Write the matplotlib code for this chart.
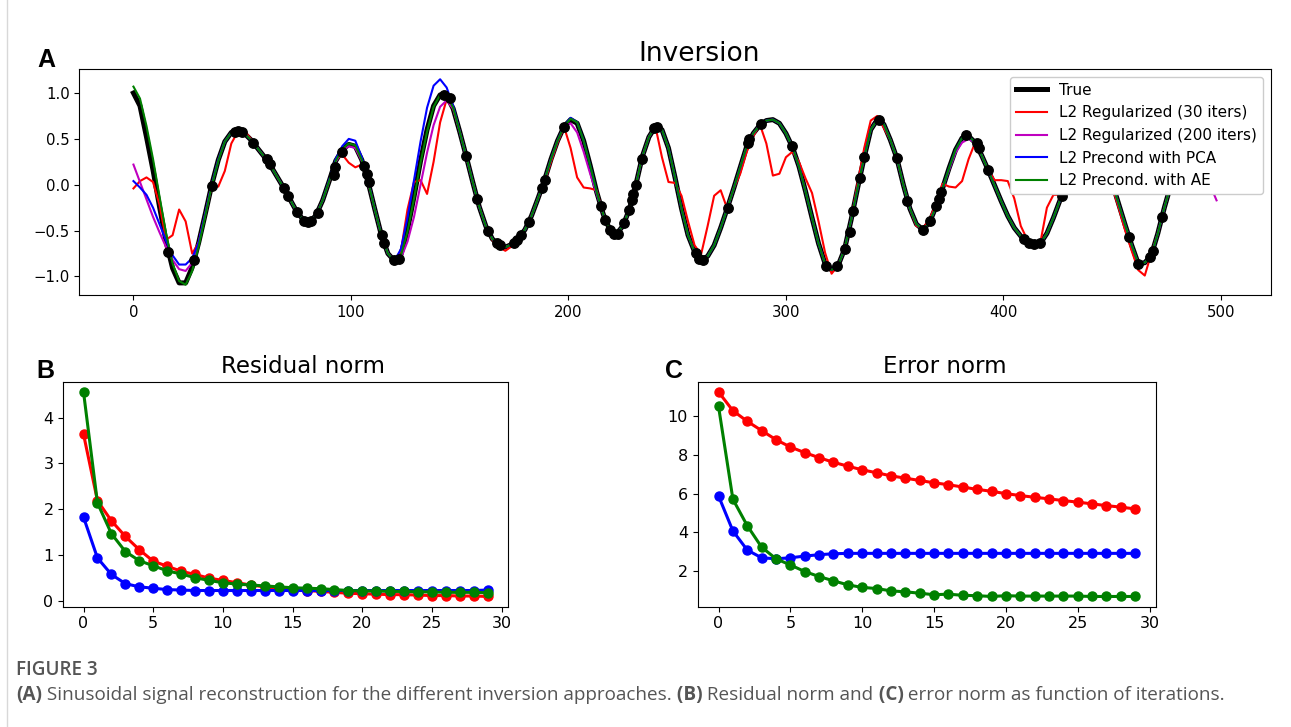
import numpy as np
import matplotlib
matplotlib.use("Agg")
import matplotlib.pyplot as plt
from matplotlib.lines import Line2D

# ---- panel A: signal samples (every 3rd sample) ----
t = np.arange(0, 499, 3)

true_sig = [
    1.00, 0.86, 0.52, 0.16, -0.24, -0.62, -0.91, -1.07, -1.07, -0.90,
    -0.63, -0.32, 0.00, 0.27, 0.47, 0.57, 0.585, 0.56, 0.49, 0.40,
    0.31, 0.21, 0.09, -0.03, -0.16, -0.29, -0.38, -0.41, -0.33, -0.17,
    0.04, 0.26, 0.38, 0.44, 0.42, 0.27, 0.02, -0.27, -0.55, -0.75,
    -0.83, -0.76, -0.49, -0.13, 0.26, 0.60, 0.86, 0.98, 0.97, 0.83,
    0.58, 0.31, 0.03, -0.24, -0.45, -0.59, -0.66, -0.68, -0.65, -0.58,
    -0.49, -0.34, -0.15, 0.05, 0.28, 0.48, 0.635, 0.71, 0.67, 0.48,
    0.21, -0.08, -0.32, -0.49, -0.54, -0.45, -0.27, 0.00, 0.31, 0.52,
    0.635, 0.60, 0.40, 0.08, -0.26, -0.55, -0.73, -0.82, -0.78, -0.66,
    -0.47, -0.26, -0.04, 0.19, 0.42, 0.56, 0.65, 0.70, 0.71, 0.67,
    0.56, 0.41, 0.20, -0.07, -0.36, -0.64, -0.86, -0.93, -0.88, -0.70,
    -0.38, -0.03, 0.30, 0.60, 0.71, 0.66, 0.49, 0.29, 0.00, -0.26,
    -0.43, -0.49, -0.41, -0.24, -0.04, 0.18, 0.38, 0.51, 0.53, 0.46,
    0.32, 0.16, -0.01, -0.18, -0.34, -0.47, -0.56, -0.62, -0.65, -0.64,
    -0.53, -0.36, -0.17, 0.05, 0.26, 0.45, 0.56, 0.57, 0.45, 0.25,
    0.02, -0.21, -0.44, -0.66, -0.86, -0.85, -0.77, -0.53, -0.25, 0.00,
    0.20, 0.30, 0.32, 0.27, 0.18, 0.08, -0.04,
]

reg30 = [
    -0.04, 0.04, 0.08, 0.03, -0.22, -0.60, -0.55, -0.27, -0.40, -0.75,
    -0.63, -0.33, -0.01, -0.02, 0.15, 0.45, 0.58, 0.59, 0.50, 0.40,
    0.31, 0.21, 0.09, -0.03, -0.16, -0.29, -0.38, -0.41, -0.33, -0.17,
    0.04, 0.27, 0.33, 0.24, 0.19, 0.22, 0.02, -0.27, -0.55, -0.75,
    -0.83, -0.72, -0.27, 0.03, 0.05, -0.10, 0.25, 0.68, 0.93, 0.83,
    0.58, 0.31, 0.03, -0.24, -0.45, -0.60, -0.68, -0.72, -0.67, -0.58,
    -0.49, -0.34, -0.15, 0.03, 0.25, 0.46, 0.63, 0.40, 0.08, -0.03,
    -0.04, -0.06, -0.32, -0.49, -0.54, -0.45, -0.27, 0.00, 0.31, 0.52,
    0.635, 0.30, 0.03, 0.02, -0.12, -0.40, -0.66, -0.76, -0.45, -0.12,
    -0.06, -0.26, -0.04, 0.12, 0.36, 0.53, 0.66, 0.45, 0.10, 0.12,
    0.30, 0.36, 0.25, 0.07, -0.09, -0.40, -0.74, -0.97, -0.88, -0.70,
    -0.38, 0.02, 0.40, 0.70, 0.75, 0.62, 0.49, 0.29, 0.00, -0.26,
    -0.45, -0.47, -0.38, -0.20, 0.01, -0.02, -0.03, 0.04, 0.28, 0.46,
    0.32, 0.16, 0.05, 0.05, 0.04, -0.15, -0.45, -0.60, -0.64, -0.63,
    -0.25, -0.11, -0.11, 0.05, 0.26, 0.45, 0.56, 0.57, 0.45, 0.25,
    -0.02, -0.25, -0.50, -0.72, -0.93, -0.99, -0.75, -0.53, -0.25, 0.00,
    0.20, 0.30, 0.32, 0.27, 0.18, 0.08, -0.04,
]

reg200 = [
    0.22, 0.03, -0.16, -0.35, -0.52, -0.68, -0.82, -0.92, -0.94, -0.85,
    -0.63, -0.32, 0.00, 0.27, 0.47, 0.57, 0.585, 0.56, 0.49, 0.40,
    0.31, 0.21, 0.09, -0.03, -0.16, -0.29, -0.38, -0.41, -0.33, -0.17,
    0.04, 0.25, 0.37, 0.42, 0.40, 0.26, 0.02, -0.27, -0.55, -0.75,
    -0.83, -0.80, -0.62, -0.35, 0.00, 0.35, 0.65, 0.85, 0.92, 0.83,
    0.58, 0.31, 0.03, -0.24, -0.45, -0.59, -0.66, -0.68, -0.65, -0.58,
    -0.49, -0.34, -0.15, 0.05, 0.28, 0.48, 0.635, 0.67, 0.57, 0.36,
    0.12, -0.10, -0.32, -0.49, -0.54, -0.45, -0.27, 0.00, 0.31, 0.52,
    0.635, 0.60, 0.40, 0.08, -0.26, -0.55, -0.73, -0.82, -0.78, -0.66,
    -0.47, -0.26, -0.04, 0.19, 0.42, 0.56, 0.65, 0.70, 0.71, 0.67,
    0.56, 0.41, 0.20, -0.07, -0.36, -0.64, -0.86, -0.93, -0.88, -0.70,
    -0.38, -0.03, 0.30, 0.60, 0.71, 0.66, 0.49, 0.29, 0.00, -0.26,
    -0.43, -0.49, -0.41, -0.24, -0.04, 0.16, 0.35, 0.46, 0.50, 0.46,
    0.32, 0.16, -0.01, -0.18, -0.34, -0.47, -0.56, -0.62, -0.65, -0.64,
    -0.53, -0.36, -0.17, 0.05, 0.26, 0.45, 0.56, 0.57, 0.45, 0.25,
    0.02, -0.21, -0.44, -0.66, -0.86, -0.85, -0.77, -0.53, -0.25, 0.00,
    0.20, 0.30, 0.32, 0.25, 0.14, 0.00, -0.17,
]

pca = [
    0.04, -0.03, -0.11, -0.25, -0.43, -0.61, -0.77, -0.87, -0.87, -0.80,
    -0.63, -0.32, 0.00, 0.27, 0.47, 0.57, 0.585, 0.56, 0.49, 0.40,
    0.31, 0.21, 0.09, -0.03, -0.16, -0.29, -0.38, -0.41, -0.33, -0.17,
    0.05, 0.28, 0.42, 0.50, 0.48, 0.30, 0.03, -0.27, -0.55, -0.75,
    -0.83, -0.70, -0.36, 0.05, 0.47, 0.84, 1.08, 1.15, 1.06, 0.86,
    0.58, 0.31, 0.03, -0.24, -0.45, -0.59, -0.66, -0.68, -0.65, -0.58,
    -0.49, -0.34, -0.15, 0.05, 0.28, 0.48, 0.64, 0.73, 0.68, 0.48,
    0.21, -0.08, -0.32, -0.49, -0.54, -0.45, -0.27, 0.00, 0.31, 0.52,
    0.635, 0.60, 0.40, 0.08, -0.26, -0.55, -0.73, -0.82, -0.78, -0.66,
    -0.47, -0.26, -0.04, 0.19, 0.42, 0.56, 0.65, 0.70, 0.71, 0.67,
    0.56, 0.41, 0.20, -0.07, -0.36, -0.64, -0.86, -0.93, -0.88, -0.70,
    -0.38, -0.03, 0.30, 0.60, 0.71, 0.66, 0.49, 0.29, 0.00, -0.26,
    -0.43, -0.49, -0.41, -0.24, -0.04, 0.18, 0.38, 0.51, 0.53, 0.46,
    0.32, 0.16, -0.01, -0.18, -0.34, -0.47, -0.56, -0.62, -0.65, -0.64,
    -0.53, -0.36, -0.17, 0.05, 0.26, 0.45, 0.56, 0.57, 0.45, 0.25,
    0.02, -0.21, -0.44, -0.66, -0.86, -0.85, -0.77, -0.53, -0.25, 0.00,
    0.20, 0.30, 0.32, 0.26, 0.16, 0.04, -0.09,
]

ae = [
    1.07, 0.94, 0.64, 0.28, -0.13, -0.53, -0.86, -1.05, -1.09, -0.94,
    -0.67, -0.34, -0.01, 0.26, 0.47, 0.57, 0.585, 0.56, 0.49, 0.40,
    0.31, 0.21, 0.09, -0.03, -0.16, -0.29, -0.38, -0.41, -0.33, -0.17,
    0.04, 0.26, 0.39, 0.45, 0.43, 0.27, 0.02, -0.27, -0.55, -0.75,
    -0.83, -0.77, -0.51, -0.15, 0.24, 0.58, 0.85, 0.98, 0.98, 0.84,
    0.58, 0.31, 0.03, -0.24, -0.45, -0.59, -0.66, -0.68, -0.65, -0.58,
    -0.49, -0.34, -0.15, 0.05, 0.28, 0.48, 0.635, 0.72, 0.68, 0.48,
    0.21, -0.08, -0.32, -0.49, -0.54, -0.45, -0.27, 0.00, 0.31, 0.52,
    0.635, 0.60, 0.40, 0.08, -0.26, -0.55, -0.73, -0.82, -0.78, -0.66,
    -0.47, -0.26, -0.04, 0.19, 0.42, 0.56, 0.65, 0.70, 0.71, 0.67,
    0.56, 0.41, 0.20, -0.07, -0.36, -0.64, -0.86, -0.93, -0.88, -0.70,
    -0.38, -0.03, 0.30, 0.60, 0.71, 0.66, 0.49, 0.29, 0.00, -0.26,
    -0.43, -0.49, -0.41, -0.24, -0.04, 0.18, 0.38, 0.51, 0.53, 0.46,
    0.32, 0.16, -0.01, -0.18, -0.34, -0.47, -0.56, -0.62, -0.65, -0.64,
    -0.53, -0.36, -0.17, 0.05, 0.26, 0.45, 0.56, 0.57, 0.45, 0.25,
    0.02, -0.21, -0.44, -0.66, -0.86, -0.85, -0.77, -0.53, -0.25, 0.00,
    0.20, 0.30, 0.32, 0.27, 0.18, 0.08, -0.04,
]

# observation points (black dots)
obs_x = [16, 27.9, 36.1, 46.7, 48.2, 49.7, 55.1, 61.3, 62.8, 69.3,
         71, 75.1, 78.6, 80.2, 81.6, 84.8, 92, 92.8, 95.8, 106.2,
         107.2, 108.1, 114.3, 115, 119.6, 121.9, 142.7, 145.4, 153.1, 158,
         163.1, 167.3, 168.5, 174.9, 176.4, 178, 181.8, 188, 189, 198,
         214.9, 216.9, 219.2, 221, 222.9, 225.6, 227.9, 229, 229.8, 231,
         233.6, 239.5, 240.5, 258.7, 260.2, 261.8, 273.3, 282.5, 283.2, 288.6,
         302.8, 318.6, 323.6, 327, 329.3, 330.9, 333.9, 336, 343, 351,
         355.8, 362.9, 366.1, 369.2, 370.3, 371.4, 382.7, 387.8, 388.8, 393.1,
         409.6, 411.6, 414, 417, 427, 457.9, 461.9, 467.6, 468.8, 472.9]
obs_y = [-0.73, -0.82, -0.01, 0.57, 0.585, 0.58, 0.46, 0.28, 0.23, -0.03,
         -0.12, -0.30, -0.39, -0.41, -0.40, -0.31, 0.11, 0.19, 0.36, 0.20,
         0.12, 0.03, -0.55, -0.63, -0.82, -0.81, 0.98, 0.95, 0.31, -0.16,
         -0.50, -0.64, -0.66, -0.64, -0.60, -0.55, -0.41, -0.03, 0.05, 0.635,
         -0.23, -0.38, -0.49, -0.54, -0.54, -0.42, -0.28, -0.17, -0.10, 0.00,
         0.28, 0.62, 0.63, -0.74, -0.81, -0.82, -0.25, 0.46, 0.50, 0.66,
         0.42, -0.89, -0.89, -0.70, -0.52, -0.29, 0.07, 0.30, 0.71, 0.29,
         -0.18, -0.49, -0.40, -0.23, -0.15, -0.08, 0.54, 0.45, 0.40, 0.16,
         -0.59, -0.63, -0.65, -0.64, -0.12, -0.57, -0.86, -0.79, -0.72, -0.35]

# ---- panels B and C: 30 iterations ----
iters = np.arange(30)
res_reg = [3.64, 2.19, 1.75, 1.41, 1.12, 0.87, 0.76, 0.65, 0.58, 0.50,
           0.45, 0.40, 0.35, 0.31, 0.28, 0.25, 0.23, 0.21, 0.19, 0.17,
           0.16, 0.15, 0.14, 0.14, 0.13, 0.12, 0.12, 0.11, 0.11, 0.10]
res_pca = [1.83, 0.94, 0.58, 0.38, 0.31, 0.28, 0.25, 0.24, 0.23, 0.23,
           0.23, 0.23, 0.23, 0.23, 0.23, 0.23, 0.23, 0.23, 0.23, 0.23,
           0.23, 0.23, 0.23, 0.23, 0.23, 0.23, 0.23, 0.23, 0.23, 0.24]
res_ae = [4.56, 2.14, 1.47, 1.08, 0.88, 0.77, 0.66, 0.59, 0.51, 0.45,
          0.40, 0.37, 0.35, 0.33, 0.31, 0.29, 0.28, 0.27, 0.25, 0.23,
          0.22, 0.22, 0.21, 0.21, 0.20, 0.20, 0.19, 0.19, 0.19, 0.18]

err_reg = [11.26, 10.29, 9.74, 9.26, 8.79, 8.41, 8.12, 7.86, 7.62, 7.42,
           7.23, 7.08, 6.92, 6.80, 6.68, 6.56, 6.46, 6.34, 6.22, 6.12,
           6.00, 5.90, 5.81, 5.73, 5.64, 5.56, 5.47, 5.38, 5.30, 5.21]
err_pca = [5.88, 4.07, 3.08, 2.68, 2.63, 2.68, 2.77, 2.84, 2.89, 2.91,
           2.91, 2.91, 2.91, 2.91, 2.91, 2.91, 2.91, 2.91, 2.91, 2.91,
           2.91, 2.91, 2.91, 2.91, 2.91, 2.91, 2.91, 2.91, 2.91, 2.91]
err_ae = [10.51, 5.71, 4.34, 3.23, 2.63, 2.31, 1.97, 1.71, 1.49, 1.28,
          1.15, 1.09, 0.97, 0.92, 0.85, 0.77, 0.80, 0.74, 0.72, 0.68,
          0.72, 0.70, 0.70, 0.70, 0.70, 0.70, 0.68, 0.68, 0.68, 0.68]

W, H = 1291, 727
fig = plt.figure(figsize=(W / 100, H / 100), dpi=100)
fig.patch.set_facecolor("white")


def px_axes(left, top, right, bottom):
    """axes from pixel box"""
    return fig.add_axes([left / W, 1 - bottom / H, (right - left) / W, (bottom - top) / H])


# ---- A ----
axA = px_axes(79.3, 69, 1270.7, 295)
axA.plot(t, true_sig, color="k", lw=3.6, label="True")
axA.plot(t, reg30, color="r", lw=1.5, label="L2 Regularized (30 iters)")
axA.plot(t, reg200, color="m", lw=1.5, label="L2 Regularized (200 iters)")
axA.plot(t, pca, color="b", lw=1.5, label="L2 Precond with PCA")
axA.plot(t, ae, color="g", lw=1.5, label="L2 Precond. with AE")
axA.plot(obs_x, obs_y, "o", color="k", ms=6.8, zorder=5)
axA.set_xticks([0, 100, 200, 300, 400, 500])
axA.set_yticks([-1.0, -0.5, 0.0, 0.5, 1.0])
axA.tick_params(labelsize=10.7)
leg = axA.legend(loc="upper right", fontsize=11, framealpha=1)
leg.set_zorder(10)
axA.set_title("Inversion", fontsize=19, x=0.52, pad=6)

# ---- B ----
axB = px_axes(63.3, 381.7, 508, 606.7)
axB.plot(iters, res_reg, "o-", color="r", lw=2.2, ms=6.5)
axB.plot(iters, res_pca, "o-", color="b", lw=2.2, ms=6.5)
axB.plot(iters, res_ae, "o-", color="g", lw=2.2, ms=6.5)
axB.set_xticks([0, 5, 10, 15, 20, 25, 30])
axB.tick_params(labelsize=11.5)
axB.set_title("Residual norm", fontsize=16.5, x=0.54, pad=6)

# ---- C ----
axC = px_axes(697.7, 381.7, 1156, 606.7)
axC.plot(iters, err_reg, "o-", color="r", lw=2.2, ms=6.5)
axC.plot(iters, err_pca, "o-", color="b", lw=2.2, ms=6.5)
axC.plot(iters, err_ae, "o-", color="g", lw=2.2, ms=6.5)
axC.set_xticks([0, 5, 10, 15, 20, 25, 30])
axC.tick_params(labelsize=11.5)
axC.set_title("Error norm", fontsize=16.5, x=0.54, pad=6)

# panel letters
for lbl, x, y in [("A", 37, 67), ("B", 36, 378), ("C", 665, 378)]:
    fig.text(x / W, 1 - y / H, lbl, fontsize=18, fontweight="bold",
             family="Liberation Sans", va="baseline")

# page border on the left
fig.add_artist(Line2D([6.5 / W, 6.5 / W], [0, 1], color="#d8d8d8", lw=1,
                      transform=fig.transFigure))

# ---- caption ----
cap_color = "#555555"
cap_font = "Open Sans"
runs = [("(A)", "bold"),
        (" Sinusoidal signal reconstruction for the different inversion approaches.", "normal"),
        (" (B)", "bold"),
        (" Residual norm and", "normal"),
        (" (C)", "bold"),
        (" error norm as function of iterations.", "normal")]


def draw_runs(size):
    renderer = fig.canvas.get_renderer()
    x = 16
    texts = []
    for s, w in runs:
        txt = fig.text(x / W, 1 - 700 / H, s, fontsize=size, fontweight=w,
                       family=cap_font, color=cap_color, va="baseline")
        x += txt.get_window_extent(renderer=renderer).width
        texts.append(txt)
    return texts, x - 16


texts, total = draw_runs(10)
for txt in texts:
    txt.remove()
cap_size = 10 * 1209 / total
draw_runs(cap_size)
fig.text(16 / W, 1 - 675 / H, "FIGURE 3", fontsize=cap_size, fontweight="semibold",
         family=cap_font, color=cap_color, va="baseline")

fig.savefig("out.png", dpi=100)
